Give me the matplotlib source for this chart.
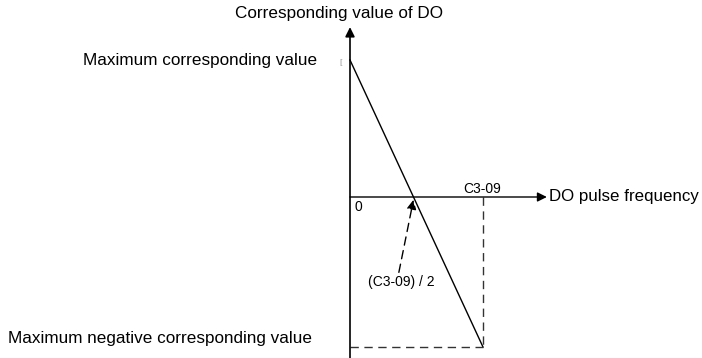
import matplotlib.pyplot as plt

plt.rcParams['font.family'] = ['Liberation Sans', 'DejaVu Sans']

# diagram values (x in units of C3-09, y in units of the maximum value)
freq_pts = [0.0, 1.0]
value_pts = [1.0, -1.095]
x_end = 1.48     # end of frequency axis arrow
y_top = 1.24     # end of value axis arrow
y_bottom = -1.2

zero_cross = value_pts[0] / (value_pts[0] - value_pts[1]) * freq_pts[1]

fig = plt.figure(figsize=(7.02, 3.58), dpi=100)
ax = fig.add_axes([0, 0, 1, 1])
ax.set_xlim(-350 / 133, 352 / 133)
ax.set_ylim(-161 / 137, 197 / 137)
ax.axis("off")

# axes with arrows
ax.annotate("", xy=(0, y_top), xytext=(0, y_bottom),
            arrowprops=dict(arrowstyle="-|>", color="black", lw=1.2,
                            mutation_scale=14, shrinkA=0, shrinkB=0))
ax.annotate("", xy=(x_end, 0), xytext=(0, 0),
            arrowprops=dict(arrowstyle="-|>", color="black", lw=1.0,
                            mutation_scale=14, shrinkA=0, shrinkB=0))

# characteristic line
ax.plot(freq_pts, value_pts, color="black", lw=1.0)

# dashed guides
ax.plot([freq_pts[1], freq_pts[1]], [0, value_pts[1]], color="#333333",
        lw=1.0, ls=(0, (6, 4)))
ax.plot([0, freq_pts[1]], [value_pts[1], value_pts[1]], color="#333333",
        lw=1.0, ls=(0, (6, 4)))
ax.annotate("", xy=(zero_cross, -0.02), xytext=(zero_cross - 0.11, -0.55),
            arrowprops=dict(arrowstyle="-|>", color="black", lw=1.0,
                            ls=(0, (6, 4)), mutation_scale=14,
                            shrinkA=0, shrinkB=0))

# labels
ax.text(-0.083, 1.343, "Corresponding value of DO", fontsize=12.3,
        ha="center", va="center")
ax.text(x_end + 0.015, 0.0, "DO pulse frequency", fontsize=12.2,
        ha="left", va="center")
ax.text(-0.248, value_pts[0] - 0.007, "Maximum corresponding value",
        fontsize=12.3, ha="right", va="center")
ax.text(-0.286, value_pts[1] + 0.065, "Maximum negative corresponding value",
        fontsize=12.3, ha="right", va="center")
ax.text(-0.068, value_pts[0] - 0.015, "[", fontsize=6, color="#999999",
        ha="center", va="center")
ax.text(0.06, -0.073, "0", fontsize=10, ha="center", va="center")
ax.text(freq_pts[1] - 0.008, 0.058, "C3-09", fontsize=10,
        ha="center", va="center")
ax.text(zero_cross - 0.094, -0.62, "(C3-09) / 2", fontsize=10,
        ha="center", va="center")

fig.savefig("out.png", dpi=100)
